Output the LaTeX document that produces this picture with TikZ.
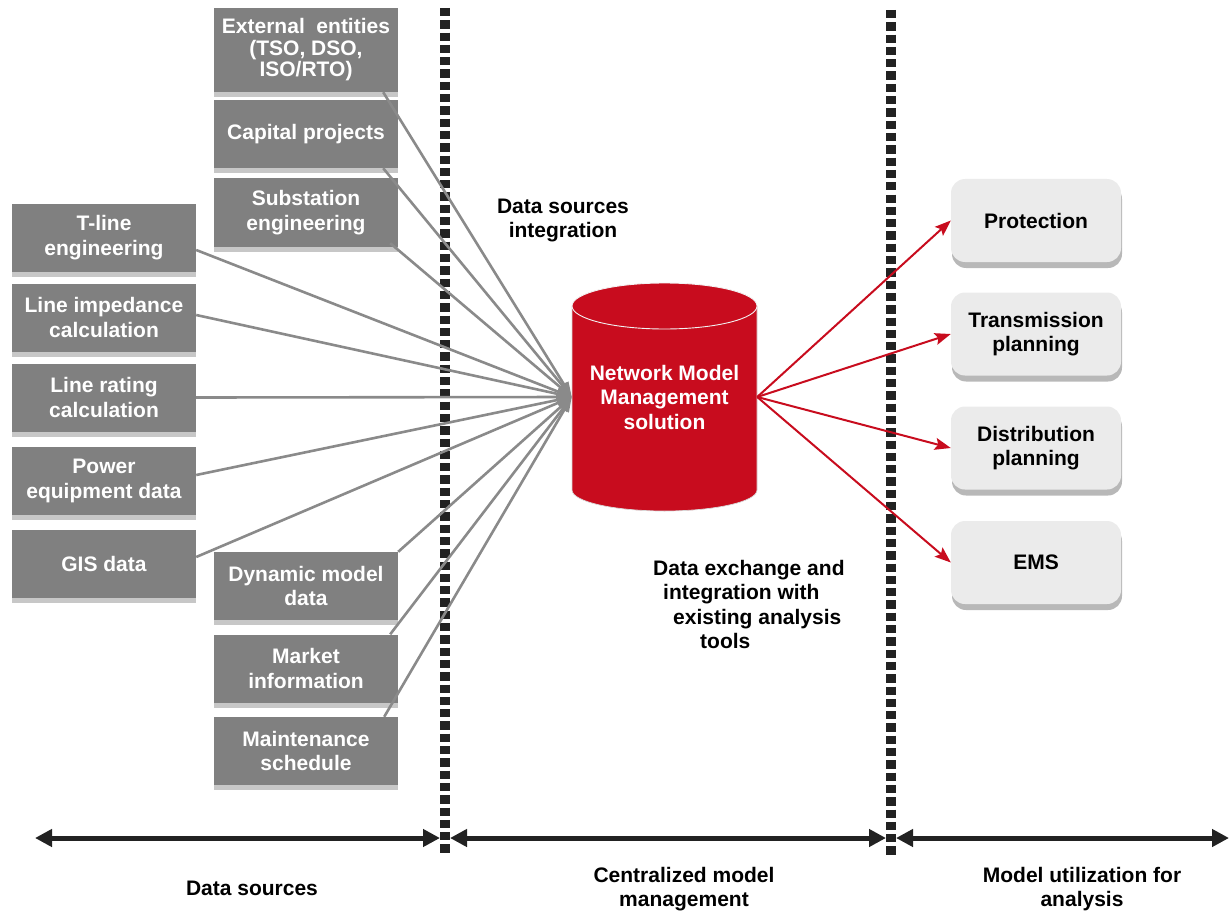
\documentclass[tikz,border=0pt]{standalone}
\usepackage{fontspec}
\setmainfont{Liberation Sans}
\usetikzlibrary{arrows.meta,shadows,calc}
\definecolor{srcgray}{HTML}{808080}
\definecolor{linegray}{HTML}{8A8A8A}
\definecolor{nmmred}{HTML}{C80C1E}
\definecolor{usefill}{HTML}{EBEBEB}
\definecolor{divider}{HTML}{222222}
\definecolor{rimgray}{HTML}{D8D8D8}

\begin{document}
\begin{tikzpicture}[x=1pt,y=-1pt,
  txt/.style={font=\bfseries\fontsize{21}{24.5}\selectfont, align=center, inner sep=0pt},
  srcbox/.style={txt, rectangle, fill=srcgray, text=white,
    minimum width=184pt, minimum height=68pt,
    drop shadow={shadow xshift=0pt, shadow yshift=-5pt, fill=black, opacity=0.22}},
  usebox/.style={txt, rectangle, rounded corners=14pt, fill=usefill, text=black,
    minimum width=170pt, minimum height=83pt,
    drop shadow={shadow xshift=1pt, shadow yshift=-6pt, fill=black, opacity=0.28}},
  label/.style={txt, text=black},
  feed/.style={draw=linegray, line width=2.6pt, -{Triangle[length=15pt,width=10pt]}},
  deliver/.style={draw=nmmred, line width=2pt, -{Stealth[length=16pt,width=12pt,inset=3pt]}},
  divline/.style={draw=divider, line width=10pt, dash pattern=on 8.3pt off 4pt},
  span/.style={draw=divider, line width=5pt,
    {Triangle[length=17pt,width=17pt]}-{Triangle[length=17pt,width=17pt]}}
]
\useasboundingbox (0,0) rectangle (1230,912);

% phase dividers
\coordinate (d1top) at (445,8);   \coordinate (d1bot) at (445,853);
\coordinate (d2top) at (891,10);  \coordinate (d2bot) at (891,858);
\draw[divline] (d1top) -- (d1bot);
\draw[divline] (d2top) -- (d2bot);

% central repository cylinder
\fill[nmmred] (572,306) -- (572,490)
  arc[start angle=180, end angle=0, x radius=92.5, y radius=21] -- (757,306) -- cycle;
\draw[rimgray, line width=0.7pt] (572,306) -- (572,490)
  arc[start angle=180, end angle=0, x radius=92.5, y radius=21] -- (757,306);
\filldraw[fill=nmmred, draw=white!90!gray, line width=0.9pt]
  (664.5,306) ellipse[x radius=92.5, y radius=23];
\node[txt, text=white, minimum width=185pt, minimum height=228pt] (nmm) at (664.5,397)
  {Network Model\\Management\\solution};

% data sources, left column
\node[srcbox] (tline) at (104,237.5) {T-line\\engineering};
\node[srcbox] (limp)  at (104,317.5) {Line impedance\\calculation};
\node[srcbox] (lrat)  at (104,397.5) {Line rating\\calculation};
\node[srcbox] (pwr)   at (104,481)   {Power\\equipment data};
\node[srcbox] (gis)   at (104,564)   {GIS data};

% data sources, right column
\node[srcbox, minimum height=84pt, font=\bfseries\fontsize{21}{21.5}\selectfont]
  (ext) at (306,50) {External\ \ entities\\(TSO, DSO,\\ISO/RTO)};
\node[srcbox] (cap) at (306,134)   {Capital projects};
\node[srcbox, minimum height=69pt] (sub) at (306,212.5) {Substation\\engineering};
\node[srcbox] (dyn) at (306,586)   {Dynamic model\\data};
\node[srcbox] (mkt) at (306,668.5) {Market\\information};
\node[srcbox] (mnt) at (306,751)   {Maintenance\\schedule};

% analysis consumers
\node[usebox] (prot)  at (1036,220.5) {Protection};
\node[usebox] (trans) at (1036,334)   {Transmission\\planning};
\node[usebox] (dist)  at (1036,448)   {Distribution\\planning};
\node[usebox] (ems)   at (1036,562.5) {EMS};

% feeds into the repository
\draw[feed] ([xshift=-15pt]ext.south east) -- (nmm.west);
\draw[feed] ([xshift=-15pt]cap.south east) -- (nmm.west);
\draw[feed] ([xshift=-8pt,yshift=4pt]sub.south east) -- (nmm.west);
\draw[feed] ([yshift=-12.5pt]tline.east) -- (nmm.west);
\draw[feed] ([yshift=2.5pt]limp.east) -- (nmm.west);
\draw[feed] (lrat.east) -- (nmm.west);
\draw[feed] ([yshift=6pt]pwr.east) -- (nmm.west);
\draw[feed] ([yshift=7pt]gis.east) -- (nmm.west);
\draw[feed] (dyn.north east) -- (nmm.west);
\draw[feed] ([xshift=-8pt]mkt.north east) -- (nmm.west);
\draw[feed] ([xshift=-14pt]mnt.north east) -- (nmm.west);

% deliveries to analysis tools
\draw[deliver] (nmm.east) -- (prot.west);
\draw[deliver] (nmm.east) -- (trans.west);
\draw[deliver] (nmm.east) -- (dist.west);
\draw[deliver] (nmm.east) -- (ems.west);

% captions
\node[label] (dsi) at (563,220.5) {Data sources\\integration};
\node[label, align=left, anchor=west] (dex) at (653,604.5)
  {Data exchange and\\\hspace*{10pt}integration with\\\hspace*{20pt}existing analysis\\\hspace*{47pt}tools};

% phase spans
\coordinate (a0) at (35,838);  \coordinate (a1) at (440,838);
\coordinate (b0) at (450,838); \coordinate (b1) at (886,838);
\coordinate (c0) at (896,838); \coordinate (c1) at (1229,838);
\draw[span] (a0) -- (a1);
\draw[span] (b0) -- (b1);
\draw[span] (c0) -- (c1);

\node[label] (ph1) at (252,888) {Data sources};
\node[label] (ph2) at (684,889) {Centralized model\\management};
\node[label] (ph3) at (1082,889) {Model utilization for\\analysis};
\end{tikzpicture}
\end{document}
